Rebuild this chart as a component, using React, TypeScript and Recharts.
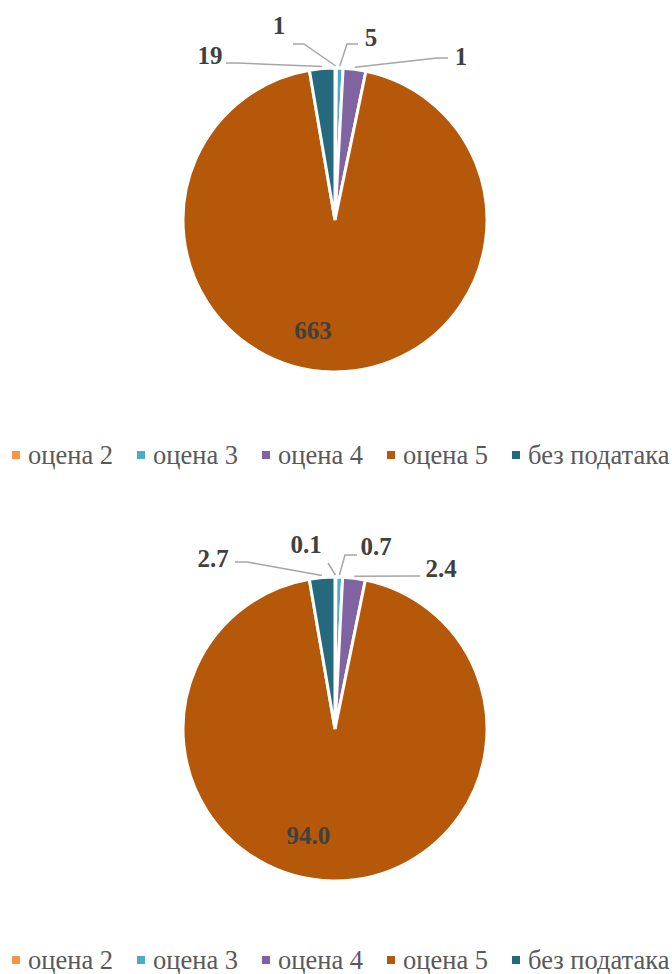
import { PieChart, Pie, Cell } from 'recharts'

const CATEGORIES = ['оцена 2', 'оцена 3', 'оцена 4', 'оцена 5', 'без података']
const COLORS = ['#f79646', '#4bacc6', '#8064a2', '#b5580a', '#246a7c']

// top chart: number of pupils
const COUNTS = [1, 5, 17, 663, 19]
const COUNT_LABELS = ['1', '5', '1', '663', '19']

// bottom chart: share in %
const PERCENTS = [0.1, 0.7, 2.4, 94.0, 2.7]
const PERCENT_LABELS = ['0.1', '0.7', '2.4', '94.0', '2.7']

type Pt = [number, number]
type LabelPlace = { text: Pt; elbow?: Pt; end?: Pt; shift?: Pt }

// label boxes relative to the pie centre (excel "best fit" placement)
const TOP_PLACES: LabelPlace[] = [
  { text: [-56, -195], elbow: [-31, -176], end: [-42, -176] },
  { text: [36, -183], elbow: [12, -176], end: [23, -176] },
  { text: [126, -164], elbow: [102, -162], end: [113, -162] },
  { text: [0, 0], shift: [-20, 0] },
  { text: [-125, -165], elbow: [-98, -157], end: [-109, -157] },
]
const BOTTOM_PLACES: LabelPlace[] = [
  { text: [-29, -185], elbow: [-7, -166], end: [-7, -166] },
  { text: [41, -183], elbow: [10, -174], end: [22, -174] },
  { text: [106, -161], elbow: [85, -153], end: [85, -153] },
  { text: [0, 0], shift: [-25, -4] },
  { text: [-122, -171], elbow: [-88, -167], end: [-100, -167] },
]

const RAD = Math.PI / 180
const SERIF = '"Times New Roman", "Liberation Serif", Tinos, "Noto Serif", "DejaVu Serif", FreeSerif, serif'

function makeLabel(texts: string[], places: LabelPlace[]) {
  return (props: any) => {
    const { cx, cy, midAngle, outerRadius, index } = props
    const p = places[index]
    const textStyle = {
      fontFamily: SERIF,
      fontWeight: 700,
      fontSize: 25,
      fill: '#404040',
    }
    if (p.shift) {
      const r = outerRadius * 0.73
      const x = cx + r * Math.cos(-midAngle * RAD) + p.shift[0]
      const y = cy + r * Math.sin(-midAngle * RAD) + p.shift[1]
      return (
        <text x={x} y={y} textAnchor="middle" dominantBaseline="central" style={textStyle}>
          {texts[index]}
        </text>
      )
    }
    const sx = cx + (outerRadius + 2) * Math.cos(-midAngle * RAD)
    const sy = cy + (outerRadius + 2) * Math.sin(-midAngle * RAD)
    const pts = [
      [sx, sy],
      [cx + p.elbow![0], cy + p.elbow![1]],
      [cx + p.end![0], cy + p.end![1]],
    ]
      .map((q) => q.join(','))
      .join(' ')
    return (
      <g>
        <polyline points={pts} fill="none" stroke="#a6a6a6" strokeWidth={1.5} />
        <text
          x={cx + p.text[0]}
          y={cy + p.text[1]}
          textAnchor="middle"
          dominantBaseline="central"
          style={textStyle}
        >
          {texts[index]}
        </text>
      </g>
    )
  }
}

function LegendRow() {
  return (
    <div
      style={{
        display: 'flex',
        alignItems: 'center',
        paddingLeft: 12,
        gap: 24,
        fontFamily: SERIF,
        fontSize: 26.5,
        lineHeight: '20px',
        color: '#595959',
        whiteSpace: 'nowrap',
      }}
    >
      {CATEGORIES.map((c, i) => (
        <span key={c} style={{ display: 'inline-flex', alignItems: 'center' }}>
          <span style={{ width: 8, height: 8, background: COLORS[i], marginRight: 8 }} />
          {c}
        </span>
      ))}
    </div>
  )
}

function OnePie({
  values,
  texts,
  places,
  legendTop,
}: {
  values: number[]
  texts: string[]
  places: LabelPlace[]
  legendTop: number
}) {
  const data = CATEGORIES.map((name, i) => ({ name, value: values[i] }))
  return (
    <div style={{ position: 'relative', width: 672, height: 509 }}>
      <PieChart width={672} height={430} margin={{ top: 0, right: 0, bottom: 0, left: 0 }}>
        <Pie
          data={data}
          dataKey="value"
          nameKey="name"
          cx={335}
          cy={220}
          outerRadius={152}
          startAngle={90}
          endAngle={-270}
          stroke="#ffffff"
          strokeWidth={3}
          label={makeLabel(texts, places)}
          labelLine={false}
          isAnimationActive={false}
        >
          {data.map((d, i) => (
            <Cell key={d.name} fill={COLORS[i]} />
          ))}
        </Pie>
      </PieChart>
      <div style={{ position: 'absolute', left: 0, top: legendTop, width: 672 }}>
        <LegendRow />
      </div>
    </div>
  )
}

export default function App() {
  return (
    <div style={{ position: 'absolute', left: 0, top: 0, width: 672, height: 974, background: '#fff', overflow: 'hidden' }}>
      <OnePie values={COUNTS} texts={COUNT_LABELS} places={TOP_PLACES} legendTop={445} />
      <OnePie values={PERCENTS} texts={PERCENT_LABELS} places={BOTTOM_PLACES} legendTop={441} />
    </div>
  )
}
